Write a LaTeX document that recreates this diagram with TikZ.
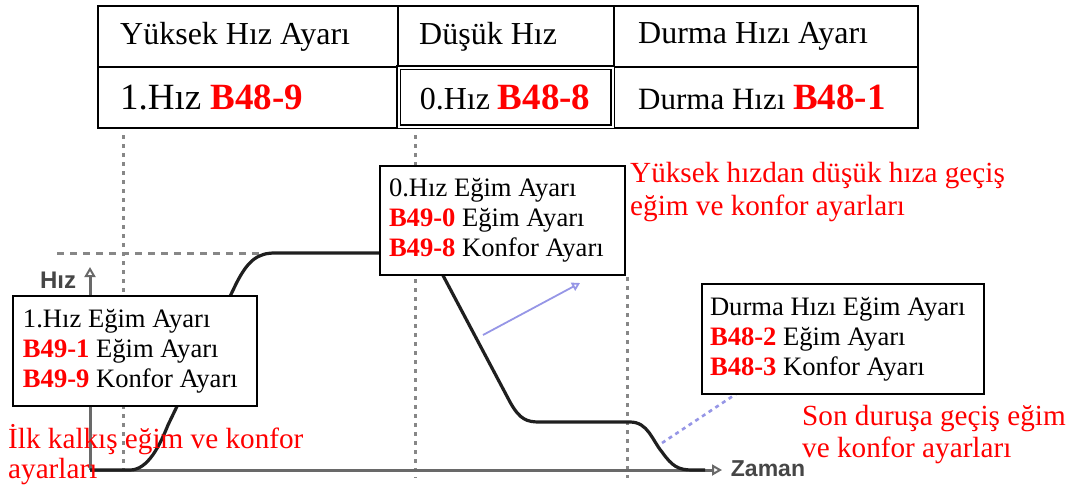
\documentclass[tikz,border=0pt]{standalone}
\usepackage{fontspec}
\setmainfont{Liberation Serif}
\newfontfamily\axisfont{Liberation Sans}
\usetikzlibrary{arrows.meta}
\definecolor{axgray}{RGB}{105,105,105}
\definecolor{lblgray}{RGB}{70,70,70}
\definecolor{dashgray}{RGB}{135,135,135}
\definecolor{lblue}{RGB}{150,150,230}
\definecolor{tred}{RGB}{255,0,0}
\newcommand{\rb}[1]{\textcolor{tred}{\textbf{#1}}}
\newcommand{\natsp}{\spaceskip=0pt\xspaceskip=0pt\relax}
\begin{document}
\begin{tikzpicture}[x=1pt,y=-1pt,
  cell/.style={draw, line width=2.4pt, anchor=north west, inner ysep=0pt, align=left},
  infobox/.style={draw, line width=2pt, fill=white, anchor=north west, align=left, inner ysep=0pt, font=\fontsize{26.6}{30}\selectfont},
  note/.style={text=tred, anchor=base west, align=left, inner sep=0pt},
  gdash/.style={dashgray, line width=3pt, dash pattern=on 4pt off 5pt},
  hdash/.style={dashgray, line width=3pt, dash pattern=on 7pt off 6pt},
  axis/.style={axgray, line width=3pt},
  axlabel/.style={text=lblgray, inner sep=0pt},
  curve/.style={black!88, line width=3.2pt, line join=round},
  bluearrow/.style={lblue, line width=1.8pt},
]
\useasboundingbox (0,0) rectangle (1084,493);

% ---- table ----
\node[cell, minimum width=300, minimum height=61, inner xsep=22, text width=256,
      font=\fontsize{32}{36}\selectfont] (h1) at (97,5) {\natsp Yüksek Hız Ayarı};
\node[cell, minimum width=216, minimum height=61, inner xsep=21, text width=174,
      font=\fontsize{32}{36}\selectfont] (h2) at (397,5) {\natsp Düşük Hız};
\node[cell, minimum width=304, minimum height=61, inner xsep=24, text width=256,
      font=\fontsize{32}{36}\selectfont] (h3) at (613,5) {\natsp Durma Hızı Ayarı};
\node[cell, minimum width=300, minimum height=61, inner xsep=22, text width=256,
      font=\fontsize{37}{40}\selectfont] (r1) at (97,66) {\natsp 1.Hız \rb{B48-9}};
\node[cell, minimum width=304, minimum height=61, inner xsep=24, text width=256,
      font=\fontsize{31}{36}\selectfont] (r3) at (613,66)
      {\natsp Durma Hızı {\fontsize{37}{40}\selectfont\rb{B48-1}}};
\node[cell, line width=1.5pt, double, double distance=1.8pt, minimum width=214, minimum height=59,
      inner xsep=21, text width=172, font=\fontsize{32}{36}\selectfont] (r2) at (398,67)
      {\natsp 0.Hız {\fontsize{37}{40}\selectfont\rb{B48-8}}};

% ---- guide lines ----
\coordinate (v1t) at (123,135); \coordinate (v1b) at (123,476);
\coordinate (v2t) at (415,135); \coordinate (v2b) at (415,478);
\coordinate (v3t) at (627,277); \coordinate (v3b) at (627,478);
\coordinate (hdl) at (57,253);  \coordinate (hdr) at (270,253);
\draw[gdash] (v1t) -- (v1b);
\draw[gdash] (v2t) -- (v2b);
\draw[gdash] (v3t) -- (v3b);
\draw[hdash] (hdl) -- (hdr);

% ---- axes ----
\coordinate (o) at (90,470);
\coordinate (ytop) at (90,267);
\coordinate (xend) at (722,470);
\draw[axis, -{Triangle[open,length=10pt,width=11pt,line width=2pt]}] (o) -- (ytop);
\draw[axis, -{Triangle[open,length=10pt,width=11pt,line width=2pt]}] (o) -- (xend);
\node[axlabel, font=\axisfont\bfseries\fontsize{24}{24}\selectfont] (hizlbl) at (58,280) {Hız};
\node[axlabel, font=\axisfont\bfseries\fontsize{23}{23}\selectfont] (zamanlbl) at (768,469) {Zaman};

% ---- speed curve ----
\draw[curve] (90,470) -- (130,470) .. controls (148,470) and (160,445) .. (168,425)
  -- (236,284) .. controls (248,260) and (258,253) .. (275,253)
  -- (420,253) .. controls (430,253) and (433,258) .. (438,266)
  -- (510,402) .. controls (520,420) and (527,422) .. (540,422)
  -- (630,422) .. controls (648,422) and (652,440) .. (662,452)
  .. controls (672,466) and (678,470) .. (692,470) -- (705,470);

% ---- blue pointers ----
\coordinate (ba1) at (483,335); \coordinate (ba2) at (580,283);
\draw[bluearrow, -{Triangle[open,length=8pt,width=9pt]}] (ba1) -- (ba2);
\coordinate (bd1) at (662,443); \coordinate (bd2) at (748,386);
\draw[bluearrow, line width=2.6pt, dash pattern=on 4pt off 4pt] (bd1) -- (bd2);

% ---- info boxes ----
\node[infobox, minimum width=244, minimum height=110, inner xsep=10, text width=224] (b1) at (12,295)
  {\natsp 1.Hız Eğim Ayarı\\ \rb{B49-1} Eğim Ayarı\\ \rb{B49-9} Konfor Ayarı};
\node[infobox, minimum width=245, minimum height=109, inner xsep=9, text width=227] (b2) at (379,165)
  {\natsp 0.Hız Eğim Ayarı\\ \rb{B49-0} Eğim Ayarı\\ \rb{B49-8} Konfor Ayarı};
\node[infobox, minimum width=282, minimum height=110, inner xsep=8, text width=266] (b3) at (701,283)
  {\natsp Durma Hızı Eğim Ayarı\\ \rb{B48-2} Eğim Ayarı\\ \rb{B48-3} Konfor Ayarı};

% ---- red notes ----
\node[note, text width=420, font=\fontsize{29.2}{33}\selectfont] (n1) at (630,182)
  {\natsp Yüksek hızdan düşük hıza geçiş\\eğim ve konfor ayarları};
\node[note, text width=280, font=\fontsize{29.2}{32}\selectfont] (n2) at (802,425)
  {\natsp Son duruşa geçiş eğim\\ve konfor ayarları};
\node[note, text width=310, font=\fontsize{29.2}{30}\selectfont] (n3) at (8,448)
  {\natsp İlk kalkış eğim ve konfor\\ayarları};
\end{tikzpicture}
\end{document}
